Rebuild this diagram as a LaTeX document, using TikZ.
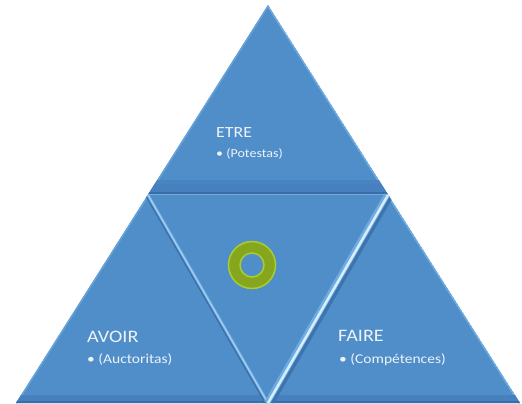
\documentclass[tikz,border=0pt]{standalone}
\usepackage{fontspec}
\setmainfont{Carlito}
\newfontfamily\lbl[FakeStretch=1.15]{Carlito}
\definecolor{tri}{HTML}{508EC9}
\definecolor{trid}{HTML}{4680BE}
\definecolor{tridd}{HTML}{3A6DA6}
\definecolor{tril}{HTML}{6EABE1}
\definecolor{trihl}{HTML}{D6EEFC}
\definecolor{ringc}{HTML}{86A61D}
\definecolor{ringe}{HTML}{AACD2E}
\definecolor{txt}{HTML}{EEF2F8}
\tikzset{
  lbltext/.style={anchor=base west, text=txt, inner sep=0pt, font=\lbl\fontsize{#1}{#1}\selectfont},
}
\begin{document}
\begin{tikzpicture}[x=1pt,y=-1pt]
\useasboundingbox (0,0) rectangle (522,404);
\fill[white] (0,0) rectangle (522,404);
% vertices
\coordinate (ap) at (268,5);
\coordinate (ll) at (16,403);
\coordinate (rr) at (520,403);
\coordinate (hl) at (144,193);
\coordinate (hr) at (392,193);
\coordinate (lt) at (148,195);
\coordinate (rt) at (388,195);
\coordinate (cb) at (268,403);
\begin{scope}
  \clip (ap) -- (ll) -- (rr) -- cycle;
  \fill[tri] (ap) -- (ll) -- (rr) -- cycle;
  % outer edges
  \draw[line width=3, tril] (ap) -- (rr);
  \draw[line width=3, tril!70!tri] (ap) -- (ll);
  % bottom band
  \fill[trid] (0,395) rectangle (522,404);
  \draw[line width=2, tridd] (0,402) -- (522,402);
  % horizontal seam
  \fill[trid] (0,184) rectangle (522,192);
  \fill[trid!70!tri] (0,180) rectangle (522,184);
  \draw[line width=1.5, tridd] (hl) -- (hr);
  \draw[line width=1.5, tril] (0,194.5) -- (522,194.5);
  % left seam
  \draw[line width=2, tridd] ([xshift=-2.2]lt) -- ([xshift=-2.2]cb);
  \draw[line width=3, tril] (lt) -- (cb);
  \draw[line width=1, trihl!60!tril] (lt) -- (cb);
  % right seam
  \draw[line width=4, tridd!80!tri] ([xshift=4]rt) -- ([xshift=4]cb);
  \draw[line width=6, tril] ([xshift=-1]rt) -- ([xshift=-1]cb);
  \draw[line width=2.5, trihl] (rt) -- (cb);
\end{scope}
% ring
\fill[ringc, draw=ringe, line width=1.5] (252,265) circle (23.5);
\fill[tri, draw=ringe, line width=1.5] (252,265) circle (12);
% texts
\node[lbltext=15.5] (etre) at (216,137) {ETRE};
\node[lbltext=12.2] (pot) at (216,157) {• (Potestas)};
\node[lbltext=17.5] (avoir) at (87,342) {AVOIR};
\node[lbltext=13.5] (auc) at (87,363) {• (Auctoritas)};
\node[lbltext=17.5] (faire) at (338,341) {FAIRE};
\node[lbltext=13.5] (comp) at (339,363) {• (Compétences)};
\end{tikzpicture}
\end{document}
